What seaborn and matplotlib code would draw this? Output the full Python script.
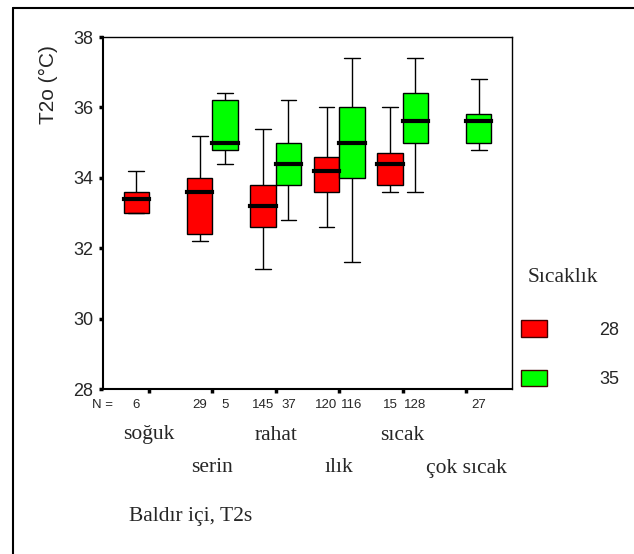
import numpy as np
import pandas as pd
import matplotlib
matplotlib.use("Agg")
import matplotlib.pyplot as plt
from matplotlib.patches import Patch
from matplotlib.lines import Line2D
import matplotlib.transforms as mtransforms
import seaborn as sns

# Thermal sensation categories and air temperature groups
categories = ["soğuk", "serin", "rahat", "ılık", "sıcak", "çok sıcak"]
groups = ["28", "35"]

# Five-number summaries of T2o (°C) per category, 28 °C group
red_lo = [33.0, 32.2, 31.4, 32.6, 33.6, np.nan]
red_q1 = [33.0, 32.4, 32.6, 33.6, 33.8, np.nan]
red_med = [33.4, 33.6, 33.2, 34.2, 34.4, np.nan]
red_q3 = [33.6, 34.0, 33.8, 34.6, 34.7, np.nan]
red_hi = [34.2, 35.2, 35.4, 36.0, 36.0, np.nan]

# Five-number summaries of T2o (°C) per category, 35 °C group
green_lo = [np.nan, 34.4, 32.8, 31.6, 33.6, 34.8]
green_q1 = [np.nan, 34.8, 33.8, 34.0, 35.0, 35.0]
green_med = [np.nan, 35.0, 34.4, 35.0, 35.6, 35.6]
green_q3 = [np.nan, 36.2, 35.0, 36.0, 36.4, 35.8]
green_hi = [np.nan, 36.4, 36.2, 37.4, 37.4, 36.8]

# Number of observations per box
red_n = [6, 29, 145, 120, 15, None]
green_n = [None, 5, 37, 116, 128, 27]

y_ticks = [28, 30, 32, 34, 36, 38]

SERIF = "Liberation Serif"
SANS = "Liberation Sans"

# Long-format table: five values per box reproduce min, Q1, median, Q3, max
rows = []
summaries = {
    "28": (red_lo, red_q1, red_med, red_q3, red_hi),
    "35": (green_lo, green_q1, green_med, green_q3, green_hi),
}
for g, stats in summaries.items():
    for i, cat in enumerate(categories):
        vals = [s[i] for s in stats]
        if np.isnan(vals[0]):
            continue
        for v in vals:
            rows.append({"kategori": cat, "Sıcaklık": g, "T2o": v})
df = pd.DataFrame(rows)

sns.set_style("white")
plt.rcParams["font.family"] = [SANS, "DejaVu Sans"]

W, H = 634, 554
fig = plt.figure(figsize=(W / 100, H / 100), dpi=100)
ax = fig.add_axes([103 / W, 1 - 389 / H, (512 - 103) / W, (389 - 37) / H])

palette = {"28": "#FF0000", "35": "#00FF00"}
sns.boxplot(
    data=df, x="kategori", y="T2o", hue="Sıcaklık",
    order=categories, hue_order=groups, palette=palette,
    whis=(0, 100), width=0.8, gap=0, saturation=1,
    linewidth=1, linecolor="black", legend=False, ax=ax,
    capwidths=0.25,
    medianprops=dict(color="black", linewidth=3, solid_capstyle="projecting"),
)

ax.set_xlim(-0.726, 5.726)
ax.set_ylim(28, 38)
ax.set_yticks(y_ticks)
ax.set_yticklabels([str(t) for t in y_ticks], fontsize=13, family=SANS)
ax.set_xticks(range(len(categories)))
ax.set_xticklabels([])
ax.set_xlabel("")
ax.set_ylabel("")
for sp in ax.spines.values():
    sp.set_visible(True)
    sp.set_color("black")
    sp.set_linewidth(1)
ax.spines["left"].set_linewidth(1.5)
ax.spines["bottom"].set_linewidth(1.5)
ax.tick_params(axis="both", which="major", bottom=True, left=True,
               direction="out", length=3, width=2.5, color="black", pad=4)

# N = counts under each box
trans = mtransforms.blended_transform_factory(ax.transData, ax.transAxes)
ny = -(405 - 389) / (389 - 37)
ax.text(-0.726, ny, "N =", transform=trans, ha="center", va="center",
        fontsize=9.5, family=SANS)
for i in range(len(categories)):
    if red_n[i] is not None:
        ax.text(i - 0.2, ny, str(red_n[i]), transform=trans, ha="center",
                va="center", fontsize=9.5, family=SANS)
    if green_n[i] is not None:
        ax.text(i + 0.2, ny, str(green_n[i]), transform=trans, ha="center",
                va="center", fontsize=9.5, family=SANS)

# Category names, staggered on two rows
for i, cat in enumerate(categories):
    ypix = 435 if i % 2 == 0 else 468
    ax.text(i, -(ypix - 389) / (389 - 37), cat, transform=trans,
            ha="center", va="center", fontsize=15.5, family=SERIF)

fig.text(129 / W, 1 - 517 / H, "Baldır içi, T2s", ha="left", va="center",
         fontsize=15.5, family=SERIF)

fig.text(48 / W, 1 - 85 / H, "T2o (°C)", rotation=90, ha="center",
         va="center", fontsize=15, family=SANS)

# Legend
fig.text(528 / W, 1 - 278 / H, "Sıcaklık", ha="left", va="center",
         fontsize=15.5, family=SERIF)
handles = [Patch(facecolor=palette[g], edgecolor="#400000", linewidth=1)
           for g in groups]
fs = 13
px = fs * 100 / 72
leg = fig.legend(handles, groups, loc="upper left",
                 bbox_to_anchor=(521 / W, 1 - 320 / H),
                 frameon=False, fontsize=fs, handlelength=26 / px,
                 handleheight=19 / px, handletextpad=52 / px,
                 labelspacing=(50 - 19) / px, borderpad=0, borderaxespad=0,
                 prop={"family": SANS, "size": fs})

# Outer frame lines
fig.add_artist(Line2D([13 / W, 13 / W], [0, 1 - 7.5 / H], transform=fig.transFigure,
                      color="black", linewidth=1.5))
fig.add_artist(Line2D([13 / W, 1], [1 - 7.5 / H, 1 - 7.5 / H], transform=fig.transFigure,
                      color="black", linewidth=1.5))

fig.savefig("out.png", dpi=100)
